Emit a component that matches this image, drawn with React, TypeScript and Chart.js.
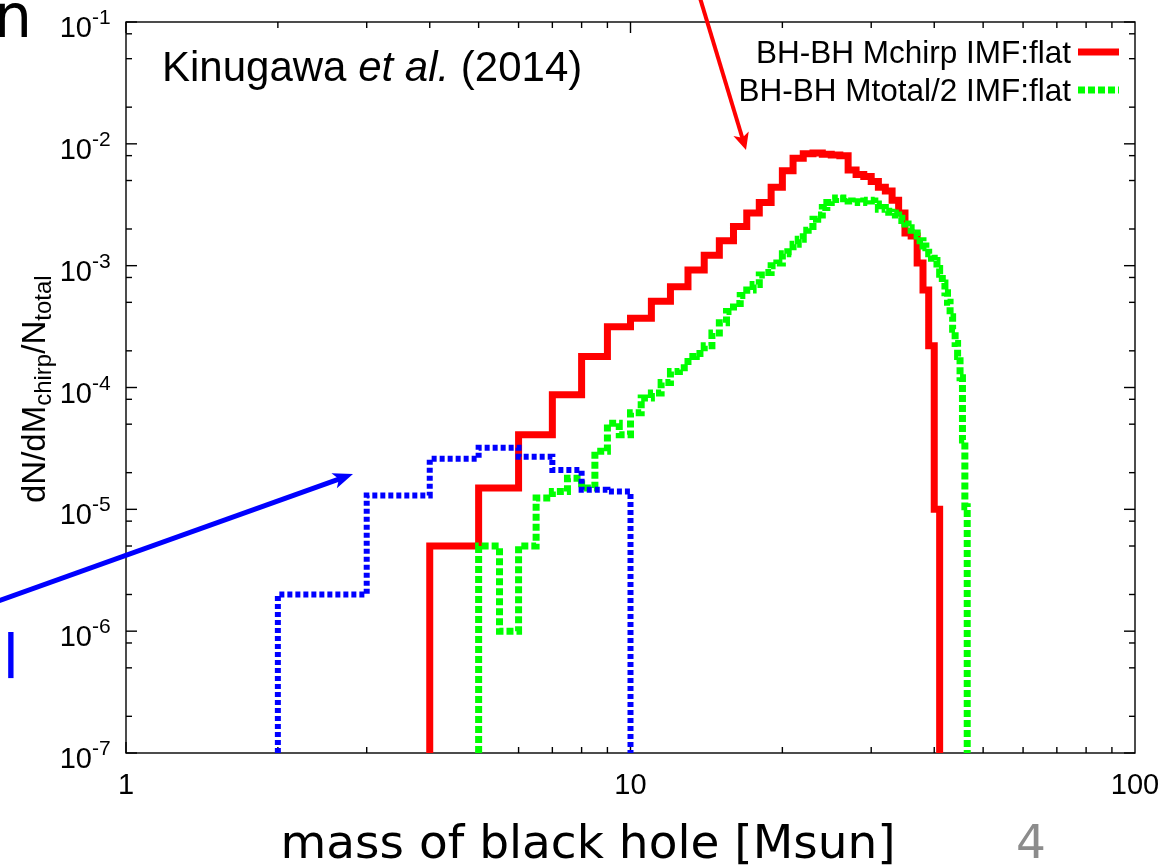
import React, { useEffect, useRef } from 'react';
import { Chart, registerables } from 'chart.js';

Chart.register(...registerables);

// ---------- axis ranges ----------
const xMin = 1;
const xMax = 100;
const yMin = 1e-7;
const yMax = 1e-1;

// ---------- data: BH-BH Mchirp IMF:flat (bins of width 1 starting at 4) ----------
const redBinStart = 4;
const redBinWidth = 1;
const redValues = [
  5.0e-6, 1.5e-5, 4.1e-5, 8.7e-5, 1.8e-4, 3.15e-4, 3.7e-4, 5.1e-4, 6.7e-4, 9.2e-4,
  1.22e-3, 1.6e-3, 2.1e-3, 2.7e-3, 3.3e-3, 4.4e-3, 6.0e-3, 7.6e-3, 8.3e-3, 8.4e-3,
  8.2e-3, 8.1e-3, 8.0e-3, 6.1e-3, 5.6e-3, 5.4e-3, 4.9e-3, 4.4e-3, 4.1e-3, 3.45e-3,
  2.7e-3, 1.85e-3, 1.75e-3, 1.05e-3, 6.3e-4, 2.2e-4, 1.0e-5,
];

// ---------- data: BH-BH Mtotal/2 IMF:flat (bins of width 0.5 starting at 5) ----------
const greenBinStart = 5;
const greenBinWidth = 0.5;
const greenValues = [
  5.0e-6, 1.0e-6, 5.0e-6, 1.24e-5, 1.4e-5, 1.8e-5, 1.5e-5, 3.0e-5, 5.1e-5, 4.1e-5,
  6.2e-5, 8.2e-5, 9.0e-5, 1.1e-4, 1.35e-4, 1.45e-4, 1.8e-4, 1.9e-4, 2.2e-4, 2.8e-4,
  3.4e-4, 4.2e-4, 4.9e-4, 5.7e-4, 6.3e-4, 7.0e-4, 8.4e-4, 8.8e-4, 1.0e-3, 1.05e-3,
  1.25e-3, 1.3e-3, 1.5e-3, 1.65e-3, 1.95e-3, 2.1e-3, 2.4e-3, 2.6e-3, 3.0e-3, 3.3e-3,
  3.5e-3, 3.6e-3, 3.55e-3, 3.6e-3, 3.4e-3, 3.3e-3, 3.35e-3, 3.3e-3, 3.4e-3, 3.45e-3,
  3.4e-3, 3.2e-3, 2.9e-3, 3.0e-3, 2.8e-3, 2.75e-3, 2.7e-3, 2.6e-3, 2.45e-3, 2.35e-3,
  2.2e-3, 2.05e-3, 1.95e-3, 1.85e-3, 1.75e-3, 1.6e-3, 1.45e-3, 1.4e-3, 1.25e-3, 1.15e-3,
  1.1e-3, 9.5e-4, 8.5e-4, 7.2e-4, 6.0e-4, 5.0e-4, 3.8e-4, 3.0e-4, 2.3e-4, 1.8e-4,
  1.2e-4, 3.7e-5, 1.05e-5,
];

// ---------- data: blue dotted histogram ----------
const blueEdges = [2, 3, 4, 5, 6, 7, 8, 9, 10];
const blueValues = [2.0e-6, 1.3e-5, 2.6e-5, 3.2e-5, 2.7e-5, 2.1e-5, 1.45e-5, 1.4e-5];

// ---------- ticks and texts ----------
const xTickValues = [1, 10, 100];
const xTickLabels = ['1', '10', '100'];
const xMinorMultipliers = [2, 3, 4, 5, 6, 7, 8, 9];
const yTickExponents = [-7, -6, -5, -4, -3, -2, -1];
const yMinorMultipliers = [2, 5, 8];
const legendLabels = ['BH-BH Mchirp IMF:flat', 'BH-BH Mtotal/2 IMF:flat'];
const xAxisTitle = 'mass of black hole [Msun]';

const RED = '#ff0000';
const GREEN = '#00ff00';
const BLUE = '#0000ff';

const ARIAL = '"Liberation Sans", Arial, sans-serif';
const SLIDE = '"DejaVu Sans", Verdana, sans-serif';

function edgesFrom(start: number, width: number, n: number): number[] {
  const out: number[] = [];
  for (let i = 0; i <= n; i++) out.push(Math.round((start + i * width) * 1000) / 1000);
  return out;
}

function stepPoints(edges: number[], values: number[]) {
  const pts: { x: number; y: number }[] = [{ x: edges[0], y: yMin }];
  values.forEach((v, i) => pts.push({ x: edges[i], y: v }));
  pts.push({ x: edges[values.length], y: yMin });
  return pts;
}

function drawArrow(
  ctx: CanvasRenderingContext2D,
  x0: number, y0: number, x1: number, y1: number,
  color: string, lw: number, headLen: number, headHalf: number,
) {
  const ang = Math.atan2(y1 - y0, x1 - x0);
  const c = Math.cos(ang);
  const s = Math.sin(ang);
  const bx = x1 - headLen * c;
  const by = y1 - headLen * s;
  ctx.save();
  ctx.strokeStyle = color;
  ctx.fillStyle = color;
  ctx.lineWidth = lw;
  ctx.lineCap = 'butt';
  ctx.beginPath();
  ctx.moveTo(x0, y0);
  ctx.lineTo(x1 - headLen * 0.6 * c, y1 - headLen * 0.6 * s);
  ctx.stroke();
  ctx.beginPath();
  ctx.moveTo(x1, y1);
  ctx.lineTo(bx + headHalf * s, by - headHalf * c);
  ctx.lineTo(x1 - headLen * 0.75 * c, y1 - headLen * 0.75 * s);
  ctx.lineTo(bx - headHalf * s, by + headHalf * c);
  ctx.closePath();
  ctx.fill();
  ctx.restore();
}

const framePlugin = {
  id: 'gnuplotFrame',
  beforeDatasetsDraw(chart: any) {
    const { ctx, chartArea: a, scales } = chart;
    const xs = scales.x;
    const ys = scales.y;
    ctx.save();
    ctx.strokeStyle = '#000';
    ctx.lineWidth = 1.4;
    ctx.strokeRect(a.left, a.top, a.right - a.left, a.bottom - a.top);
    const tick = (x1: number, y1: number, x2: number, y2: number) => {
      ctx.beginPath();
      ctx.moveTo(x1, y1);
      ctx.lineTo(x2, y2);
      ctx.stroke();
    };
    for (const d of [1, 10]) {
      for (const m of [1, ...xMinorMultipliers]) {
        const px = xs.getPixelForValue(d * m);
        const len = m === 1 ? 11 : 6;
        tick(px, a.bottom, px, a.bottom - len);
        tick(px, a.top, px, a.top + len);
      }
    }
    for (const e of yTickExponents) {
      const mults = e === -1 ? [1] : [1, ...yMinorMultipliers];
      for (const m of mults) {
        const py = ys.getPixelForValue(m * Math.pow(10, e));
        const len = m === 1 ? 11 : 6;
        tick(a.left, py, a.left + len, py);
        tick(a.right, py, a.right - len, py);
      }
    }
    ctx.restore();
  },
  afterDraw(chart: any) {
    const { ctx, scales } = chart;
    const xs = scales.x;
    const ys = scales.y;
    ctx.save();
    ctx.fillStyle = '#000';
    ctx.textBaseline = 'alphabetic';

    // y tick labels 10^e
    for (const e of yTickExponents) {
      const py = ys.getPixelForValue(Math.pow(10, e));
      ctx.font = `29px ${ARIAL}`;
      ctx.textAlign = 'right';
      ctx.fillText('10', 92, py + 15);
      ctx.font = `21px ${ARIAL}`;
      ctx.textAlign = 'left';
      ctx.fillText(`-${Math.abs(e)}`, 92, py + 2);
    }

    // x tick labels
    ctx.font = `29px ${ARIAL}`;
    ctx.textAlign = 'center';
    xTickValues.forEach((v, i) => {
      const px = xs.getPixelForValue(v);
      ctx.fillText(xTickLabels[i], px, 794);
    });

    // y axis title: dN/dM_chirp/N_total (rotated)
    ctx.save();
    ctx.translate(45, 503);
    ctx.rotate(-Math.PI / 2);
    ctx.textAlign = 'left';
    let cx = 0;
    const seg = (t: string, size: number, dy: number) => {
      ctx.font = `${size}px ${ARIAL}`;
      ctx.fillText(t, cx, dy);
      cx += ctx.measureText(t).width;
    };
    seg('dN/dM', 33, 0);
    seg('chirp', 24, 6);
    seg('/N', 33, 0);
    seg('total', 24, 6);
    ctx.restore();

    // Kinugawa et al. (2014)
    ctx.textAlign = 'left';
    let kx = 162;
    const kseg = (t: string, italic: boolean) => {
      ctx.font = `${italic ? 'italic ' : ''}42px ${ARIAL}`;
      ctx.fillText(t, kx, 81);
      kx += ctx.measureText(t).width;
    };
    kseg('Kinugawa ', false);
    kseg('et al.', true);
    kseg(' (2014)', false);

    // legend
    ctx.font = `31.5px ${ARIAL}`;
    ctx.textAlign = 'right';
    ctx.fillText(legendLabels[0], 1071, 63);
    ctx.fillText(legendLabels[1], 1071, 101);
    ctx.lineCap = 'butt';
    ctx.strokeStyle = RED;
    ctx.lineWidth = 7;
    ctx.beginPath();
    ctx.moveTo(1078, 52);
    ctx.lineTo(1119, 52);
    ctx.stroke();
    ctx.strokeStyle = GREEN;
    ctx.lineWidth = 7;
    ctx.setLineDash([7, 3]);
    ctx.beginPath();
    ctx.moveTo(1078, 90);
    ctx.lineTo(1119, 90);
    ctx.stroke();
    ctx.setLineDash([]);

    // annotation arrows
    drawArrow(ctx, 700, -2, 746, 150, RED, 4, 17, 8);
    drawArrow(ctx, -2, 601, 353, 474, BLUE, 5, 20, 8);

    // slide texts around the chart
    ctx.fillStyle = '#000';
    ctx.font = `47px ${SLIDE}`;
    ctx.textAlign = 'center';
    ctx.fillText(xAxisTitle, 588, 858);
    ctx.fillStyle = '#8c8c8c';
    ctx.fillText('4', 1031, 858);
    ctx.fillStyle = '#000';
    ctx.font = `60px ${SLIDE}`;
    ctx.textAlign = 'right';
    ctx.fillText('n', 32, 37);
    ctx.fillStyle = BLUE;
    ctx.textAlign = 'left';
    ctx.fillText('l', 2.5, 678);
    ctx.textAlign = 'right';
    ctx.fillText('e', 2.5, 678);

    ctx.restore();
  },
};

export default function App() {
  const canvasRef = useRef<HTMLCanvasElement | null>(null);

  useEffect(() => {
    const canvas = canvasRef.current;
    if (!canvas) return;
    const redEdges = edgesFrom(redBinStart, redBinWidth, redValues.length);
    const greenEdges = edgesFrom(greenBinStart, greenBinWidth, greenValues.length);

    const chart = new Chart(canvas, {
      type: 'line',
      data: {
        datasets: [
          {
            label: legendLabels[0],
            data: stepPoints(redEdges, redValues),
            borderColor: RED,
            backgroundColor: RED,
            borderWidth: 7,
            stepped: 'before',
            pointRadius: 0,
            fill: false,
            borderCapStyle: 'butt',
            borderJoinStyle: 'miter',
            order: 3,
          },
          {
            label: legendLabels[1],
            data: stepPoints(greenEdges, greenValues),
            borderColor: GREEN,
            backgroundColor: GREEN,
            borderWidth: 7,
            borderDash: [7, 3],
            stepped: 'before',
            pointRadius: 0,
            fill: false,
            borderCapStyle: 'butt',
            borderJoinStyle: 'miter',
            order: 2,
          },
          {
            label: 'blue',
            data: stepPoints(blueEdges, blueValues),
            borderColor: BLUE,
            backgroundColor: BLUE,
            borderWidth: 6,
            borderDash: [5, 3],
            stepped: 'before',
            pointRadius: 0,
            fill: false,
            borderCapStyle: 'butt',
            borderJoinStyle: 'miter',
            order: 1,
          },
        ],
      } as any,
      options: {
        animation: false,
        responsive: false,
        maintainAspectRatio: false,
        layout: { padding: { left: 126, right: 24, top: 22, bottom: 115 } },
        scales: {
          x: { type: 'logarithmic', min: xMin, max: xMax, display: false },
          y: { type: 'logarithmic', min: yMin, max: yMax, display: false },
        },
        plugins: {
          legend: { display: false },
          tooltip: { enabled: false },
        },
      } as any,
      plugins: [framePlugin as any],
    });
    return () => chart.destroy();
  }, []);

  return (
    <div style={{ position: 'fixed', left: 0, top: 0, width: 1159, height: 868, background: '#fff' }}>
      <canvas ref={canvasRef} width={1159} height={868} style={{ display: 'block', width: 1159, height: 868 }} />
    </div>
  );
}
